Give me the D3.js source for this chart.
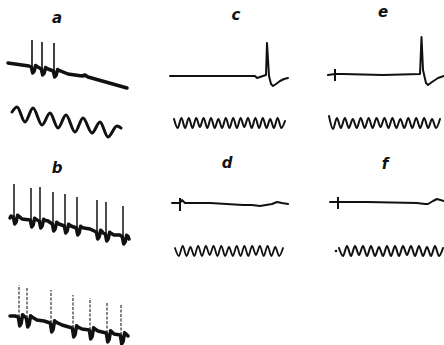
<!DOCTYPE html>
<html>
<head>
<meta charset="utf-8">
<script src="https://cdn.jsdelivr.net/npm/d3@7"></script>
<style>
body { margin: 0; background: #fff; }
.label { font-family: "DejaVu Sans", sans-serif; font-weight: bold; font-style: italic; font-size: 15px; fill: #111; }
</style>
</head>
<body>
<svg id="fig" width="444" height="345"></svg>
<script>
// times in ms from trace start, voltages in mV relative to the starting baseline
var labels = ['a', 'b', 'c', 'd', 'e', 'f'];

// a: burst of three spikes on a drifting baseline + slow time mark
var aBase = [[0,0],[14,-2],[21,-3],[40,-6],[60,-11],[74,-13],[77,-12],[80,-14],[119,-25]];
var aSpikes = [[24,-4,23],[34,-6,21],[46,-8,20]];   // [t, base, peak]
var aWave = [[0,3],[5,8],[13,-7],[21,7],[30,-10],[38,2],[46,-13],[54,0],[63,-17],
             [71,-3],[80,-18],[88,-7],[96,-22],[105,-11],[109,-13]];

// b: repetitive firing, two sweeps
var b1Base = [[0,-1],[1,1],[3,0],[12,-2],[27,-3],[38,-4],[49,-7],[61,-9],[74,-11],[80,-12],[93,-16],[104,-18],[110,-18],[119,-22]];
var b1Spikes = [[4,0,33],[21,-3,29],[30,-4,30],[43,-7,25],[55,-9,23],[67,-11,20],[87,-15,17],[96,-17,15],[113,-20,11]];
var b2Base = [[-2,-1],[3,-1],[25,-5],[32,-6],[50,-10],[70,-14],[86,-16],[102,-19],[116,-21]];
var b2Spikes = [[7,-2,30],[15,-3,28],[39,-8,25],[61,-13,20],[78,-15,17],[95,-18,13],[109,-20,11]];

// c-f: single sweeps
var cTrace = [[0,0],[85,0],[87,-2],[93,0],[96,1],[97,33],[99,0],[101,-8],[103,-10],[106,-8],[110,-5],[114,-3],[118,-2]];
var dTrace = [[0,0],[8,0],[10,3],[13,0],[38,0],[71,-2],[80,-2],[88,-3],[100,-1],[105,1],[110,0],[116,-1]];
var eTrace = [[0,0],[7,1],[15,1],[55,0],[92,1],[93.5,38],[95,5],[98,-8],[100,-10],[104,-7],[110,-3],[116,-1]];
var fTrace = [[0,0],[8,0],[37,0],[87,-1],[95,-2],[98,-2],[103,1],[107,3],[114,1]];
var stimTicks = {d: [8, 5, -8], e: [7, 6, -6], f: [8, 5, -7]};   // [t, top, bottom]

// time marks, successive extrema
var cWave = [4,-5,5,-5,5,-5,5,-4,5,-5,5,-5,4,-5,5,-5,5,-5,5,-4,5,-5,5,-5,5,-5,4,-5,5,-5,2];
var dWave = [3,-5,5,-5,4,-5,5,-5,5,-4,5,-5,5,-5,4,-5,5,-5,5,-5,5,-4,5,-5,5,-5,4,-5,3];
var eWave = [7,-6,5,-5,5,-5,4,-5,5,-5,5,-5,5,-4,5,-5,5,-5,4,-5,5,-5,5,-5,5,-5,4,-5,4];
var fWave = [3,-5,5,-5,5,-4,5,-5,5,-5,4,-5,5,-5,5,-5,5,-4,5,-5,5,-5,4,-5,5,-5,3];

var svg = d3.select('#fig');
var ink = '#111';

// spike afterpotential shape (relative t, fraction of depth)
var notch = [[-0.7,0],[0.7,-1],[2.2,-0.7],[3.6,0.25],[5,0.1]];

function scales(x0, y0) {
  return {
    x: d3.scaleLinear().domain([0, 100]).range([x0, x0 + 100]),
    y: d3.scaleLinear().domain([-50, 50]).range([y0 + 50, y0 - 50])
  };
}

function path(pts, s, w, curve) {
  svg.append('path').datum(pts)
    .attr('d', d3.line().x(d => s.x(d[0])).y(d => s.y(d[1])).curve(curve || d3.curveLinear))
    .attr('fill', 'none')
    .attr('stroke', ink)
    .attr('stroke-width', w)
    .attr('stroke-linejoin', 'round')
    .attr('stroke-linecap', 'round');
}

function burst(base, spikes, s, o) {
  var pts = base.filter(p => !spikes.some(d => p[0] > d[0] - 0.8 && p[0] < d[0] + 5.2));
  spikes.forEach(function(d) {
    notch.forEach(n => pts.push([d[0] + n[0], d[1] + n[1] * o.depth]));
  });
  pts.sort((p, q) => p[0] - q[0]);
  path(pts, s, o.width);

  svg.selectAll(null).data(spikes).enter().append('line')
    .attr('x1', d => s.x(d[0])).attr('x2', d => s.x(d[0]))
    .attr('y1', d => s.y(d[1])).attr('y2', d => s.y(d[2]))
    .attr('stroke', o.spikeColor || ink)
    .attr('stroke-width', o.spikeWidth)
    .attr('stroke-dasharray', o.dash || null);
}

function wave(vals, x0, x1, yc, w) {
  var x = d3.scaleLinear().domain([0, vals.length - 1]).range([x0, x1]);
  var y = d3.scaleLinear().domain([-50, 50]).range([yc + 50, yc - 50]);
  path(vals.map((v, i) => [i, v]), {x: x, y: y}, w, d3.curveMonotoneX);
}

function tick(t, s) {
  svg.append('line')
    .attr('x1', s.x(t[0])).attr('x2', s.x(t[0]))
    .attr('y1', s.y(t[1])).attr('y2', s.y(t[2]))
    .attr('stroke', ink).attr('stroke-width', 2);
}

// a
burst(aBase, aSpikes, scales(8, 63), {depth: 6, width: 3.5, spikeWidth: 1.6});
path(aWave, scales(12, 115), 3, d3.curveMonotoneX);

// b
burst(b1Base, b1Spikes, scales(10, 217), {depth: 7, width: 3.5, spikeWidth: 1.5});
burst(b2Base, b2Spikes, scales(12, 315), {depth: 9, width: 3.5, spikeWidth: 1.2, spikeColor: '#333', dash: '3,1.5'});

// c
path(cTrace, scales(170, 76), 2);
wave(cWave, 174, 285, 123, 2);

// d
var sd = scales(172, 203);
path(dTrace, sd, 2);
tick(stimTicks.d, sd);
wave(dWave, 175, 283, 251, 1.8);

// e
var se = scales(328, 75);
path(eTrace, se, 2);
tick(stimTicks.e, se);
wave(eWave, 329, 440, 123, 2);

// f
var sf = scales(330, 202);
path(fTrace, sf, 2);
tick(stimTicks.f, sf);
wave(fWave, 339, 443, 251, 2);
svg.append('circle').attr('cx', 336).attr('cy', 251).attr('r', 1.3).attr('fill', ink);

// panel letters
var labelPos = [[57,23],[57,173],[236,20],[227,168],[383,17],[385,169]];
svg.selectAll('.label').data(labels).enter().append('text')
  .attr('class', 'label')
  .attr('x', (d, i) => labelPos[i][0])
  .attr('y', (d, i) => labelPos[i][1])
  .attr('text-anchor', 'middle')
  .text(d => d);
</script>
</body>
</html>
